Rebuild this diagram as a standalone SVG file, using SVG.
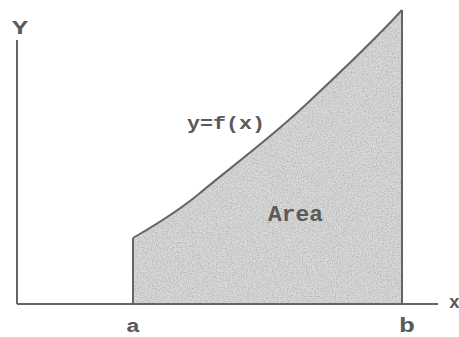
<svg xmlns="http://www.w3.org/2000/svg" width="459" height="337" viewBox="0 0 459 337">
  <defs>
    <filter id="grain" x="0" y="0" width="100%" height="100%">
      <feTurbulence type="fractalNoise" baseFrequency="0.8" numOctaves="2" seed="7" result="n"/>
      <feColorMatrix in="n" type="matrix" values="0 0 0 0 0.45  0 0 0 0 0.45  0 0 0 0 0.45  0 0 0 -2.2 1.35" result="dots"/>
      <feComposite in="dots" in2="SourceGraphic" operator="in" result="clipped"/>
      <feMerge>
        <feMergeNode in="SourceGraphic"/>
        <feMergeNode in="clipped"/>
      </feMerge>
    </filter>
    <style>
      .ln { fill: none; stroke: #656565; stroke-width: 2; }
      .lbl { font-family: "Liberation Mono", "DejaVu Sans Mono", monospace; font-weight: bold; fill: #5a5a5a; }
    </style>
  </defs>

  <rect width="459" height="337" fill="#ffffff"/>

  <g id="area">
    <path d="M133,238 C150,228 175,214 200,193 S270,138 300,110 S370,45 402,10 L402,304 L133,304 Z" fill="#d9d9d9" filter="url(#grain)"/>
  </g>

  <g id="connectors">
    <line class="ln" x1="17" y1="40" x2="17" y2="304"/>
    <line class="ln" x1="17" y1="304" x2="438" y2="304"/>
    <line class="ln" x1="133" y1="238" x2="133" y2="304"/>
    <line class="ln" x1="402" y1="10" x2="402" y2="304"/>
    <path class="ln" d="M133,238 C150,228 175,214 200,193 S270,138 300,110 S370,45 402,10"/>
  </g>

  <g id="labels">
    <text class="lbl" x="12" y="34" font-size="21" textLength="16" lengthAdjust="spacingAndGlyphs">Y</text>
    <text class="lbl" x="449" y="308" font-size="18">x</text>
    <text class="lbl" x="126" y="332" font-size="19" textLength="14" lengthAdjust="spacingAndGlyphs">a</text>
    <text class="lbl" x="399" y="332" font-size="21" textLength="16" lengthAdjust="spacingAndGlyphs">b</text>
    <text class="lbl" x="187" y="129" font-size="18" textLength="78" lengthAdjust="spacingAndGlyphs">y=f(x)</text>
    <text class="lbl" x="268" y="221" font-size="22" textLength="55" lengthAdjust="spacingAndGlyphs">Area</text>
  </g>
</svg>
